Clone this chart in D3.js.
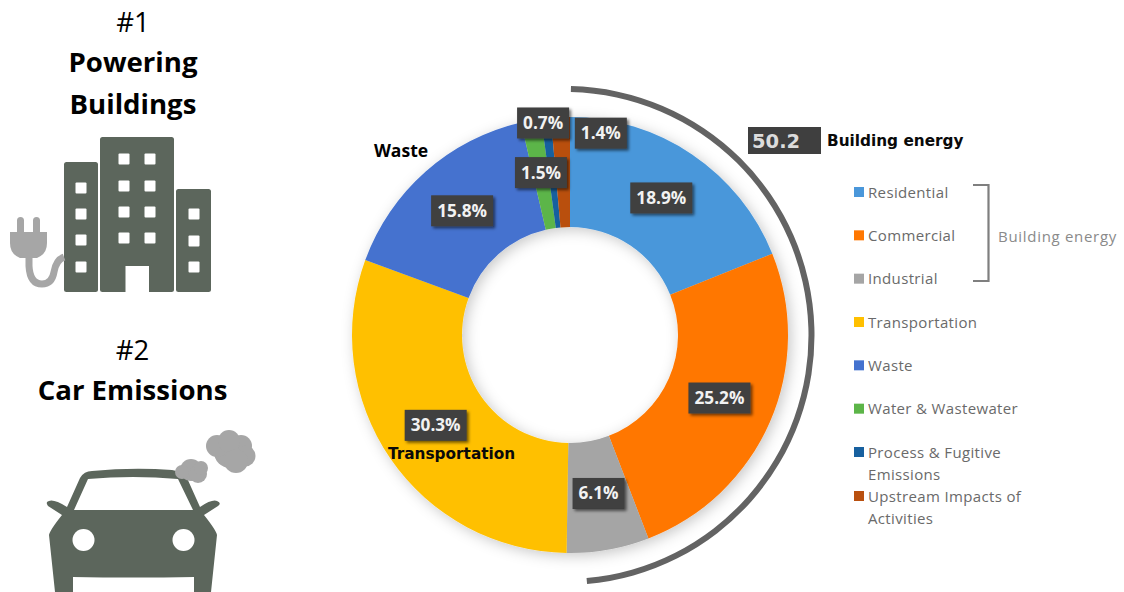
<!DOCTYPE html>
<html>
<head>
<meta charset="utf-8">
<style>
  html, body { margin: 0; padding: 0; background: #fff; }
  svg { display: block; }
  .head { font-family: "Open Sans", sans-serif; fill: #000; text-anchor: middle; }
  .legend-text { font-family: "Open Sans", sans-serif; font-size: 15px; fill: #6a6a6a; letter-spacing: 0.35px; }
  .pct { font-family: "Open Sans", sans-serif; font-size: 17.2px; font-weight: 700; fill: #f2f2f2; text-anchor: middle; }
  .verd { font-family: "DejaVu Sans", sans-serif; font-weight: 700; fill: #0a0a0a; font-size: 15.3px; }
</style>
</head>
<body>
<div id="app"></div>
<script src="https://cdnjs.cloudflare.com/ajax/libs/d3/7.8.5/d3.min.js"></script>
<script>
  const categories = ['Residential', 'Commercial', 'Industrial', 'Transportation', 'Waste', 'Water & Wastewater', 'Process & Fugitive Emissions', 'Upstream Impacts of Activities']
  const values = [18.9, 25.2, 6.1, 30.3, 15.8, 1.5, 0.7, 1.4]
  const colors = ['#4a97da', '#ff7700', '#a5a5a5', '#ffc000', '#4472cf', '#5cb548', '#17609f', '#b9500f']
  const legendLines = [['Residential'], ['Commercial'], ['Industrial'], ['Transportation'], ['Waste'], ['Water & Wastewater'], ['Process & Fugitive', 'Emissions'], ['Upstream Impacts of', 'Activities']]

  const w = 1124
  const h = 592
  const cx = 570
  const cy = 335
  const outerR = 218
  const innerR = 108

  const svg = d3.select('#app').append('svg').attr('width', w).attr('height', h)

  // shadows
  const defs = svg.append('defs')
  const halo = defs.append('filter').attr('id', 'halo').attr('x', '-20%').attr('y', '-20%').attr('width', '140%').attr('height', '140%')
  halo.append('feDropShadow').attr('dx', 3).attr('dy', 3).attr('stdDeviation', 7).attr('flood-color', '#000').attr('flood-opacity', 0.22)
  const boxShadow = defs.append('filter').attr('id', 'boxShadow').attr('x', '-30%').attr('y', '-30%').attr('width', '170%').attr('height', '170%')
  boxShadow.append('feDropShadow').attr('dx', 2).attr('dy', 2).attr('stdDeviation', 1.6).attr('flood-color', '#000').attr('flood-opacity', 0.55)

  // donut
  const color = d3.scaleOrdinal().domain(categories).range(colors)
  const pie = d3.pie().sort(null).value(d => d.value)
  const arc = d3.arc().innerRadius(innerR).outerRadius(outerR)
  const slices = pie(categories.map((c, i) => ({ name: c, value: values[i] })))

  const donut = svg.append('g').attr('transform', 'translate(' + cx + ',' + cy + ')')
  donut.append('g').attr('filter', 'url(#halo)')
    .selectAll('path').data(slices).enter().append('path')
    .attr('d', arc)
    .attr('fill', d => color(d.data.name))

  // the bracket arc round building energy sits a bit off the donut centre
  svg.append('path')
    .attr('transform', 'translate(565,335.5)')
    .attr('d', d3.arc().innerRadius(243.5).outerRadius(249.5).startAngle(0.024).endAngle(3.053)())
    .attr('fill', '#636363')

  // percent labels, the two thin slices get moved out by hand
  const nudge = { 6: [-9, -50], 7: [38, -39] }
  const labels = donut.selectAll('g.lab').data(slices).enter().append('g')
    .attr('class', 'lab')
    .attr('transform', (d, i) => {
      const c = arc.centroid(d)
      const n = nudge[i] || [0, -2]
      return 'translate(' + (c[0] + n[0]) + ',' + (c[1] + n[1]) + ')'
    })
  labels.append('rect')
    .attr('x', d => d.data.value >= 10 ? -31 : -26).attr('y', -15.5)
    .attr('width', d => d.data.value >= 10 ? 62 : 52).attr('height', 31)
    .attr('fill', '#3f3f3f').attr('filter', 'url(#boxShadow)')
  labels.append('text').attr('class', 'pct').attr('y', 6)
    .text(d => d.data.value.toFixed(1) + '%')

  svg.append('text').attr('class', 'head').attr('x', 401).attr('y', 157)
    .style('font-size', '17.5px').style('font-weight', 700).text('Waste')
  svg.append('text').attr('class', 'verd').attr('x', 388).attr('y', 459).text('Transportation')

  // 50.2 callout
  svg.append('rect').attr('x', 748).attr('y', 127).attr('width', 73).attr('height', 27).attr('fill', '#3f3f3f')
  svg.append('text').attr('x', 752).attr('y', 148)
    .style('font-family', '"DejaVu Sans", sans-serif').style('font-weight', 700).style('font-size', '19.5px')
    .attr('fill', '#dcdcdc').text(d3.sum(values.slice(0, 3)).toFixed(1))
  svg.append('text').attr('class', 'verd').attr('x', 827).attr('y', 146).text('Building energy')

  // legend
  const legendY = d3.scaleLinear().domain([0, 6]).range([192, 452])
  const rowY = i => i < 7 ? legendY(i) : 496
  const legend = svg.append('g').selectAll('g').data(categories).enter().append('g')
    .attr('transform', (d, i) => 'translate(854,' + rowY(i) + ')')
  legend.append('rect').attr('x', 0).attr('y', -5).attr('width', 10).attr('height', 10)
    .attr('fill', d => color(d))
  legend.each(function(d, i) {
    const t = d3.select(this).append('text').attr('class', 'legend-text').attr('x', 14).attr('y', 5.5)
    legendLines[i].forEach((line, j) => {
      t.append('tspan').attr('x', 14).attr('dy', j ? 22.5 : 0).text(line)
    })
  })

  svg.append('path').attr('d', 'M973,185H988.5V281H973').attr('fill', 'none').attr('stroke', '#7f7f7f').attr('stroke-width', 2.2)
  svg.append('text').attr('class', 'legend-text').attr('x', 998).attr('y', 241.5)
    .style('fill', '#8a8a8a').style('letter-spacing', '0.7px').text('Building energy')

  // left headings
  const headings = [['#1', 32, 400], ['Powering', 72, 700], ['Buildings', 114, 700], ['#2', 360, 400], ['Car Emissions', 400, 700]]
  svg.selectAll('text.lh').data(headings).enter().append('text')
    .attr('class', 'head lh').attr('x', d => d[1] < 200 ? 133 : 132.5)
    .attr('y', d => d[1]).style('font-size', '27.6px').style('font-weight', d => d[2])
    .text(d => d[0])

  // building icon
  const dark = '#5c665c'
  const plugGrey = '#a6a6a6'
  const icon = svg.append('g')
  const towers = [[64, 162, 34, 130], [100, 137, 74, 155], [176, 189, 35, 103]]
  icon.selectAll('rect.tower').data(towers).enter().append('rect')
    .attr('x', d => d[0]).attr('y', d => d[1]).attr('width', d => d[2]).attr('height', d => d[3])
    .attr('rx', 2.5).attr('fill', dark)
  const windows = []
  ;[188, 214, 240, 267].forEach(y => windows.push([81, y]))
  ;[159, 186, 212, 238].forEach(y => { windows.push([124, y]); windows.push([150, y]) })
  ;[214, 241, 267].forEach(y => windows.push([194, y]))
  icon.selectAll('rect.win').data(windows).enter().append('rect')
    .attr('x', d => d[0] - 5.5).attr('y', d => d[1] - 5.5).attr('width', 11).attr('height', 11).attr('rx', 1).attr('fill', '#fff')
  icon.append('rect').attr('x', 125.5).attr('y', 266).attr('width', 23.5).attr('height', 27).attr('fill', '#fff')
  icon.append('path')
    .attr('d', 'M10,232H47V243Q47,254 37,258H20Q10,254 10,243Z M17,220.5a3.5,3.5 0 0 1 7,0V233H17Z M33,220.5a3.5,3.5 0 0 1 7,0V233H33Z')
    .attr('fill', plugGrey)
  icon.append('path')
    .attr('d', 'M29,256V266Q30,284 42,284Q52,284 54,272Q56,260 64,257')
    .attr('fill', 'none').attr('stroke', plugGrey).attr('stroke-width', 7)

  // car icon
  const car = svg.append('g')
  car.append('path').attr('fill-rule', 'evenodd').attr('fill', dark)
    .attr('d', 'M55,592L49,535Q50,530 62,515L48,506Q45,502 49,501Q54,499 67,507L80,478Q84,471 92,471Q133,467 172,470Q182,471 187,478L200,507Q212,499 217,501Q222,503 218,506L204,515Q216,530 217,535L211,592H194V577Q133,578 73,577V592Z M74,510H193L178,479Q133,475 88,479Z')
  car.selectAll('circle').data([83.5, 183.5]).enter().append('circle')
    .attr('cx', d => d).attr('cy', 540).attr('r', 11).attr('fill', '#fff')
  const puffs = [[191, 470, 11], [182, 472, 7], [198, 474, 9], [201, 468, 7], [230, 452, 16], [217, 446, 11], [241, 446, 11], [245, 456, 10.5], [229, 441, 11], [236, 461, 12]]
  svg.append('g').selectAll('circle').data(puffs).enter().append('circle')
    .attr('cx', d => d[0]).attr('cy', d => d[1]).attr('r', d => d[2]).attr('fill', plugGrey)
</script>
</body>
</html>
